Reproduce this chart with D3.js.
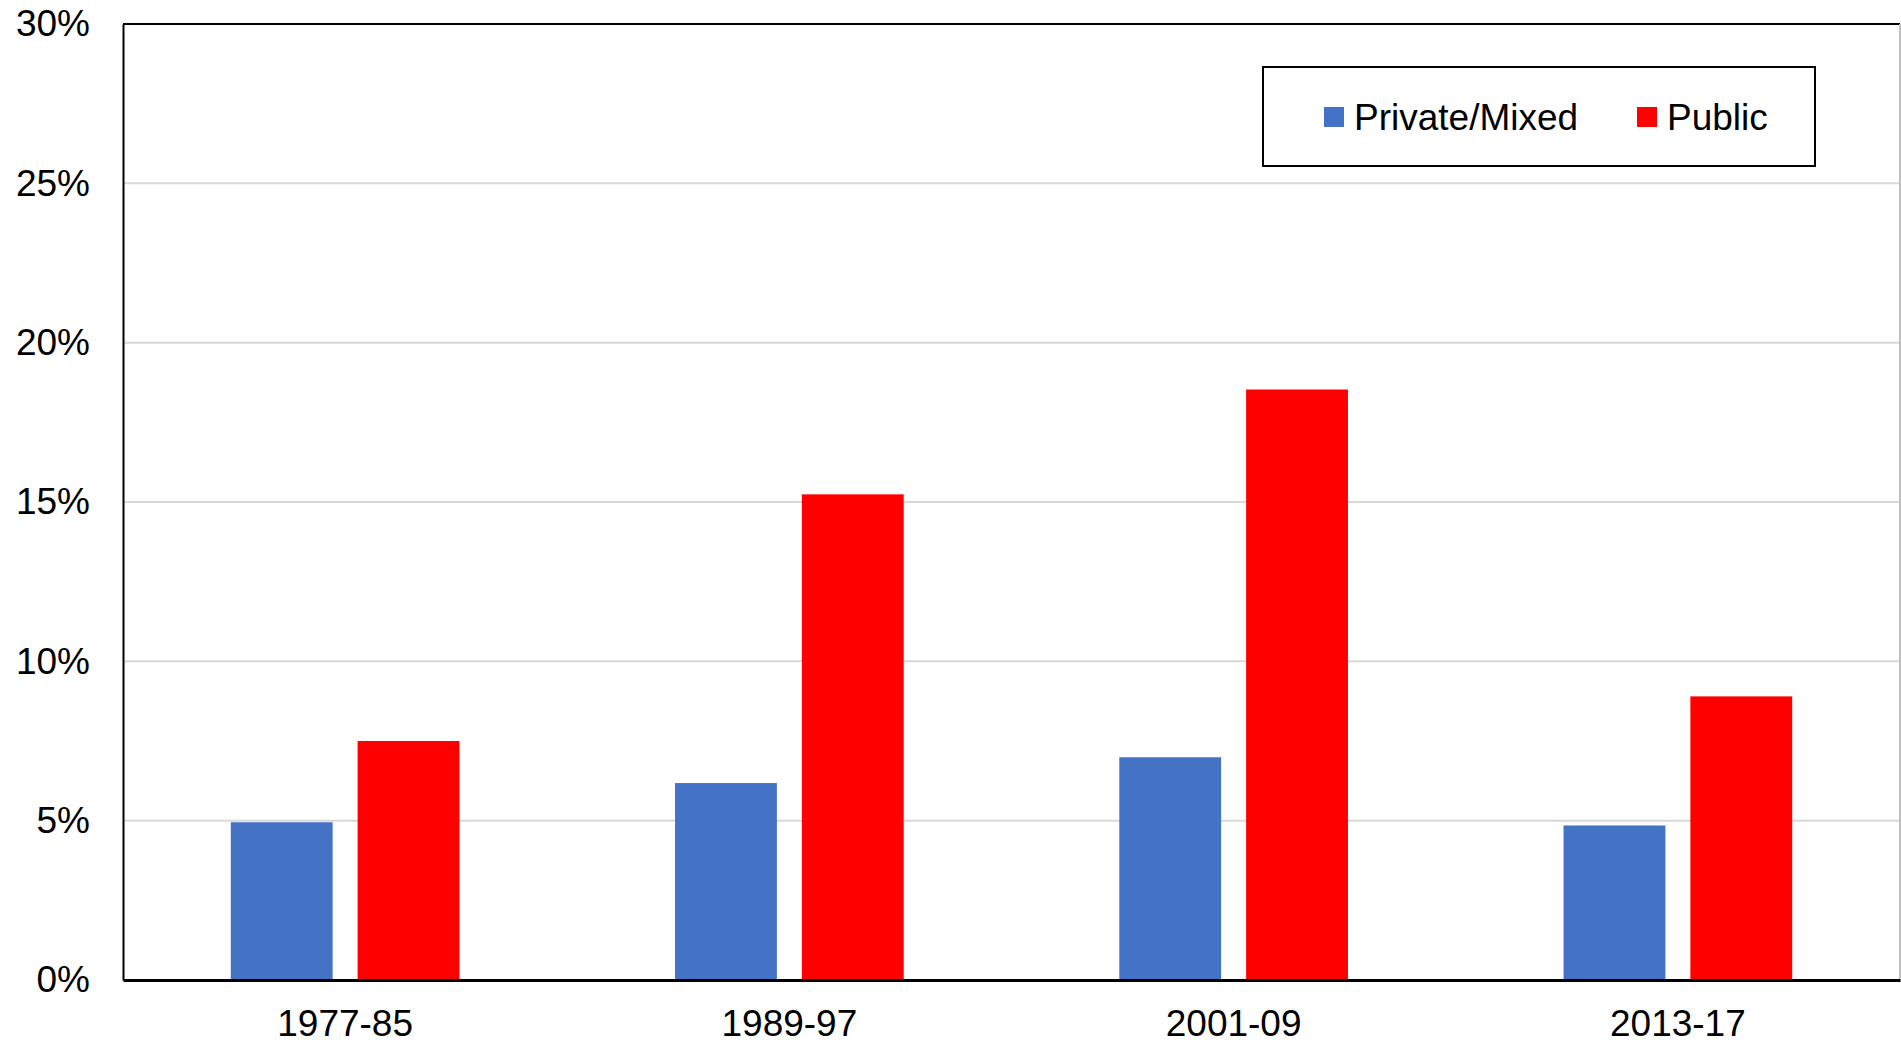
<!DOCTYPE html>
<html>
<head>
<meta charset="utf-8">
<script src="https://cdn.jsdelivr.net/npm/d3@7"></script>
<style>
  html, body { margin: 0; padding: 0; background: #fff; }
  svg { display: block; font-family: "Liberation Sans", Arial, sans-serif; }
</style>
</head>
<body>
<svg id="chart" width="1901" height="1043"></svg>
<script>
const categories = ["1977-85", "1989-97", "2001-09", "2013-17"];
const seriesNames = ["Private/Mixed", "Public"];
const privateMixed = [4.95, 6.18, 6.99, 4.85];
const publicVals = [7.50, 15.24, 18.53, 8.90];
const yTicks = [0, 5, 10, 15, 20, 25, 30];
const colors = ["#4472C4", "#FF0000"];

const svg = d3.select("#chart");
const mLeft = 123, mRight = 1900, mTop = 24, mBottom = 980;
const fontSize = 37;

const y = d3.scaleLinear().domain([0, 30]).range([mBottom, mTop]);
const x0 = d3.scaleBand().domain(categories).range([mLeft, mRight]).padding(0);
const x1 = d3.scaleBand().domain(seriesNames).range([0, x0.bandwidth()])
  .paddingInner(0.197).paddingOuter(0.85);

// gridlines
svg.append("g").selectAll("line").data(yTicks.filter(d => d > 0 && d < 30)).join("line")
  .attr("x1", mLeft).attr("x2", mRight)
  .attr("y1", d => y(d)).attr("y2", d => y(d))
  .attr("stroke", "#d9d9d9").attr("stroke-width", 2);

// bars
const data = categories.map((c, i) => ({ cat: c, vals: [privateMixed[i], publicVals[i]] }));
const groups = svg.append("g").selectAll("g").data(data).join("g")
  .attr("transform", d => `translate(${x0(d.cat)},0)`);
groups.selectAll("rect").data(d => d.vals.map((v, j) => ({ s: seriesNames[j], v, j })))
  .join("rect")
  .attr("x", d => x1(d.s))
  .attr("width", x1.bandwidth())
  .attr("y", d => y(d.v))
  .attr("height", d => y(0) - y(d.v))
  .attr("fill", d => colors[d.j]);

// plot frame
svg.append("line").attr("x1", mLeft).attr("x2", mRight).attr("y1", mTop).attr("y2", mTop)
  .attr("stroke", "#000").attr("stroke-width", 2);
svg.append("line").attr("x1", mRight).attr("x2", mRight).attr("y1", mTop).attr("y2", mBottom)
  .attr("stroke", "#bfbfbf").attr("stroke-width", 2);

// y axis
const yAxis = d3.axisLeft(y).tickValues(yTicks).tickSize(0).tickPadding(33)
  .tickFormat(d => d + "%");
const gy = svg.append("g").attr("transform", `translate(${mLeft},0)`).call(yAxis);
gy.select(".domain").attr("stroke", "#000").attr("stroke-width", 2);
gy.selectAll("text").attr("font-size", fontSize).attr("fill", "#000")
  .attr("font-family", "Liberation Sans, Arial, sans-serif");

// x axis
const xAxis = d3.axisBottom(x0).tickSize(0).tickPadding(30);
const gx = svg.append("g").attr("transform", `translate(0,${mBottom})`).call(xAxis);
gx.select(".domain").attr("stroke", "#000").attr("stroke-width", 3);
gx.selectAll("text").attr("font-size", fontSize).attr("fill", "#000")
  .attr("font-family", "Liberation Sans, Arial, sans-serif");

// legend
const lg = svg.append("g");
lg.append("rect").attr("x", 1263).attr("y", 67).attr("width", 552).attr("height", 99)
  .attr("fill", "#fff").attr("stroke", "#000").attr("stroke-width", 2);
const legendItems = [
  { name: seriesNames[0], color: colors[0], sx: 1324, tx: 1354 },
  { name: seriesNames[1], color: colors[1], sx: 1637, tx: 1667 }
];
legendItems.forEach(it => {
  lg.append("rect").attr("x", it.sx).attr("y", 107).attr("width", 20).attr("height", 20)
    .attr("fill", it.color);
  lg.append("text").attr("x", it.tx).attr("y", 130).attr("font-size", fontSize)
    .attr("fill", "#000").text(it.name);
});
</script>
</body>
</html>
